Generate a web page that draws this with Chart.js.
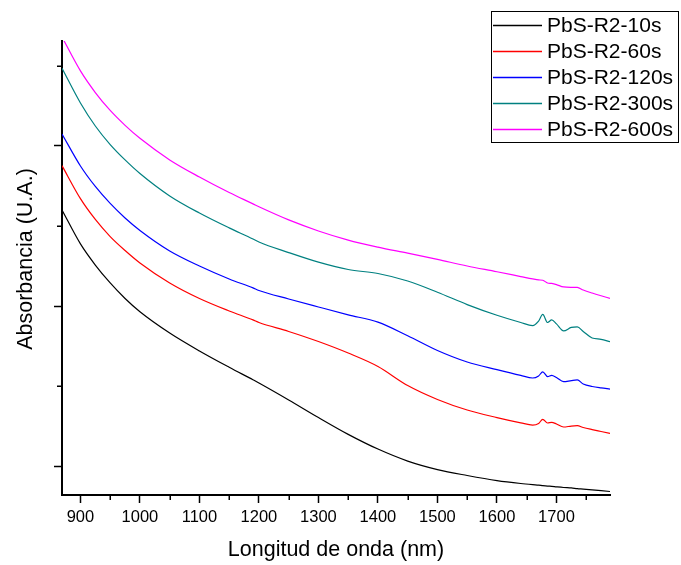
<!DOCTYPE html>
<html>
<head>
<meta charset="utf-8">
<script src="https://cdn.jsdelivr.net/npm/chart.js@4.4.1/dist/chart.umd.min.js"></script>
<style>
  html, body { margin: 0; padding: 0; background: #fff; }
  canvas { display: block; }
</style>
</head>
<body>
<canvas id="c" width="681" height="565"></canvas>
<script>
// Wavelength (nm)
const wavelengths = [869, 900, 925, 950, 975, 1000, 1050, 1100, 1150, 1190, 1200, 1250, 1300, 1350, 1400, 1450, 1500, 1550, 1600, 1640, 1660, 1670, 1677, 1685, 1692, 1700, 1712, 1725, 1735, 1745, 1760, 1775, 1790];

// Absorbance (arbitrary units, offset series)
const abs10s  = [2.600, 2.388, 2.256, 2.144, 2.047, 1.964, 1.831, 1.719, 1.617, 1.539, 1.519, 1.413, 1.303, 1.198, 1.106, 1.031, 0.978, 0.941, 0.909, 0.891, 0.884, 0.881, 0.878, 0.875, 0.873, 0.870, 0.866, 0.863, 0.859, 0.856, 0.851, 0.846, 0.841];
const abs60s  = [2.877, 2.671, 2.541, 2.434, 2.347, 2.269, 2.144, 2.047, 1.969, 1.913, 1.897, 1.841, 1.778, 1.706, 1.622, 1.503, 1.416, 1.350, 1.303, 1.270, 1.256, 1.266, 1.292, 1.269, 1.273, 1.263, 1.244, 1.250, 1.252, 1.241, 1.228, 1.216, 1.204];
const abs120s = [3.075, 2.875, 2.747, 2.641, 2.550, 2.472, 2.344, 2.250, 2.169, 2.113, 2.097, 2.044, 1.994, 1.945, 1.899, 1.814, 1.722, 1.650, 1.602, 1.566, 1.550, 1.563, 1.589, 1.559, 1.567, 1.553, 1.527, 1.534, 1.538, 1.513, 1.497, 1.488, 1.481];
const abs300s = [3.486, 3.269, 3.125, 3.009, 2.913, 2.828, 2.688, 2.581, 2.488, 2.419, 2.400, 2.334, 2.274, 2.228, 2.203, 2.156, 2.086, 2.009, 1.942, 1.897, 1.878, 1.906, 1.948, 1.897, 1.913, 1.888, 1.844, 1.866, 1.869, 1.841, 1.800, 1.792, 1.777];
const abs600s = [3.681, 3.469, 3.334, 3.222, 3.129, 3.048, 2.913, 2.806, 2.709, 2.638, 2.620, 2.538, 2.469, 2.412, 2.368, 2.330, 2.291, 2.250, 2.214, 2.184, 2.169, 2.163, 2.161, 2.144, 2.141, 2.134, 2.119, 2.117, 2.116, 2.100, 2.081, 2.064, 2.048];

const seriesLabels = ['PbS-R2-10s', 'PbS-R2-60s', 'PbS-R2-120s', 'PbS-R2-300s', 'PbS-R2-600s'];
const seriesColors = ['#000000', '#ff0000', '#0000ff', '#008080', '#ff00ff'];
const seriesValues = [abs10s, abs60s, abs120s, abs300s, abs600s];

const xMajorTicks = [900, 1000, 1100, 1200, 1300, 1400, 1500, 1600, 1700];
const xMinorTicks = [950, 1050, 1150, 1250, 1350, 1450, 1550, 1650, 1750];
const yMajorTicks = [1, 2, 3];
const yMinorTicks = [1.5, 2.5, 3.5];

const xTitle = 'Longitud de onda (nm)';
const yTitle = 'Absorbancia (U.A.)';

const datasets = seriesLabels.map((label, i) => ({
  label: label,
  data: wavelengths.map((w, k) => ({ x: w, y: seriesValues[i][k] })),
  borderColor: seriesColors[i],
  backgroundColor: seriesColors[i],
  borderWidth: 1.2,
  pointRadius: 0,
  fill: false,
  cubicInterpolationMode: 'monotone'
}));

const extrasPlugin = {
  id: 'extras',
  afterDraw(chart) {
    const ctx = chart.ctx;
    const xs = chart.scales.x, ys = chart.scales.y;
    const area = chart.chartArea;
    ctx.save();
    // minor ticks
    ctx.strokeStyle = '#000';
    ctx.lineWidth = 1.5;
    ctx.beginPath();
    xMinorTicks.forEach(v => {
      const px = Math.round(xs.getPixelForValue(v)) + 0.25;
      ctx.moveTo(px, area.bottom);
      ctx.lineTo(px, area.bottom + 5);
    });
    yMinorTicks.forEach(v => {
      const py = Math.round(ys.getPixelForValue(v)) + 0.25;
      ctx.moveTo(area.left, py);
      ctx.lineTo(area.left - 5, py);
    });
    ctx.stroke();

    // y title
    ctx.fillStyle = '#000';
    ctx.font = '21.5px "Liberation Sans", Arial, sans-serif';
    ctx.textAlign = 'center';
    ctx.textBaseline = 'middle';
    ctx.translate(26, 259);
    ctx.rotate(-Math.PI / 2);
    ctx.fillText(yTitle, 0, 0);
    ctx.restore();

    // legend
    ctx.save();
    ctx.strokeStyle = '#000';
    ctx.lineWidth = 1;
    ctx.strokeRect(491.5, 11.5, 187, 131);
    ctx.font = '21px "Liberation Sans", Arial, sans-serif';
    ctx.textAlign = 'left';
    ctx.textBaseline = 'middle';
    chart.data.datasets.forEach((ds, i) => {
      const cy = 25 + i * 26;
      ctx.strokeStyle = ds.borderColor;
      ctx.lineWidth = 1.5;
      ctx.beginPath();
      ctx.moveTo(493, cy + 0.5);
      ctx.lineTo(542, cy + 0.5);
      ctx.stroke();
      ctx.fillStyle = '#000';
      ctx.fillText(ds.label, 547, cy + 1);
    });
    ctx.restore();
  }
};

new Chart(document.getElementById('c'), {
  type: 'line',
  data: { datasets: datasets },
  plugins: [extrasPlugin],
  options: {
    responsive: false,
    animation: false,
    layout: { padding: { left: 0, top: 41, right: 71, bottom: 0 } },
    plugins: { legend: { display: false }, tooltip: { enabled: false } },
    scales: {
      x: {
        type: 'linear',
        min: 869,
        max: 1790,
        afterFit(s) { s.height = 70; },
        afterBuildTicks(s) { s.ticks = xMajorTicks.map(v => ({ value: v })); },
        border: { display: true, color: '#000', width: 2 },
        grid: { display: true, drawOnChartArea: false, drawTicks: true, tickLength: 8, tickColor: '#000', tickWidth: 1.5 },
        ticks: {
          color: '#000',
          padding: 5,
          maxRotation: 0,
          autoSkip: false,
          font: { family: '"Liberation Sans", Arial, sans-serif', size: 16.5 },
          callback: v => String(v)
        },
        title: {
          display: true,
          text: xTitle,
          color: '#000',
          padding: { top: 0, bottom: 2 },
          font: { family: '"Liberation Sans", Arial, sans-serif', size: 21.5 }
        }
      },
      y: {
        type: 'linear',
        min: 0.819,
        max: 3.656,
        afterFit(s) { s.width = 62; },
        afterBuildTicks(s) { s.ticks = yMajorTicks.map(v => ({ value: v })); },
        border: { display: true, color: '#000', width: 2 },
        grid: { display: true, drawOnChartArea: false, drawTicks: true, tickLength: 8, tickColor: '#000', tickWidth: 1.5 },
        ticks: { display: false },
        title: { display: false }
      }
    }
  }
});
</script>
</body>
</html>
